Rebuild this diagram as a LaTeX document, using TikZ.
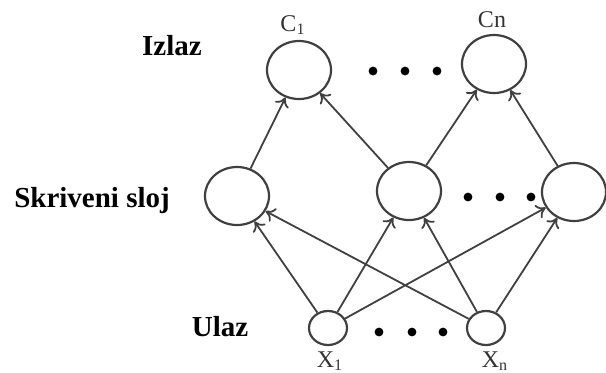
\documentclass[tikz,border=0pt]{standalone}
\usepackage{fontspec}
\setmainfont{Liberation Serif}
\usepackage{xcolor}
\usetikzlibrary{positioning,shapes,arrows.meta}

\tikzset{
  neuron/.style={ellipse, draw=black!75, line width=1.1pt, minimum width=32pt, minimum height=29pt, inner sep=0pt},
  inneuron/.style={ellipse, draw=black!75, line width=1.1pt, minimum width=19pt, minimum height=17pt, inner sep=0pt},
  layername/.style={font=\bfseries\fontsize{14.5}{16}\selectfont},
  unitname/.style={font=\fontsize{12}{13}\selectfont, text=black!80},
  link/.style={draw=black!75, line width=0.9pt, -{To[length=4.5pt,width=7.5pt]}},
}

\begin{document}
\begin{tikzpicture}[x=0.5pt, y=-0.5pt]
				\useasboundingbox (0,0) rectangle (606,372);
				% output layer
				\node[neuron] (c1) at (299,70) {};
				\node[neuron] (cn) at (494,64) {};
				% hidden layer
				\node[neuron] (h1) at (237,196) {};
				\node[neuron] (h2) at (409,191) {};
				\node[neuron] (h3) at (574,192) {};
				% input layer
				\node[inneuron] (x1) at (328,328) {};
				\node[inneuron] (xn) at (486,328) {};

				\node[unitname] (lc1) at (293,25) {C\textsubscript{1}};
				\node[unitname] (lcn) at (492,20) {Cn};
				\node[unitname] (lx1) at (330,361) {X\textsubscript{1}};
				\node[unitname] (lxn) at (495,361) {X\textsubscript{n}};

				\node[layername] (izlaz) at (172,46) {Izlaz};
				\node[layername] (skriveni) at (92,201) {Skriveni sloj};
				\node[layername] (ulaz) at (220,327) {Ulaz};

				\foreach \p in {373,405,437} \fill (\p,71) circle (2.2pt);
				\foreach \p in {468,500,531} \fill (\p,197) circle (2.2pt);
				\foreach \p in {379,412,443} \fill (\p,332) circle (2.2pt);

				\draw[link] (x1) -- (h1);
				\draw[link] (x1) -- (h2);
				\draw[link] (x1) -- (h3);
				\draw[link] (xn) -- (h1);
				\draw[link] (xn) -- (h2);
				\draw[link] (xn) -- (h3);
				\draw[link] (h1) -- (c1);
				\draw[link] (h2) -- (c1);
				\draw[link] (h2) -- (cn);
				\draw[link] (h3) -- (cn);
			\end{tikzpicture}
\end{document}
